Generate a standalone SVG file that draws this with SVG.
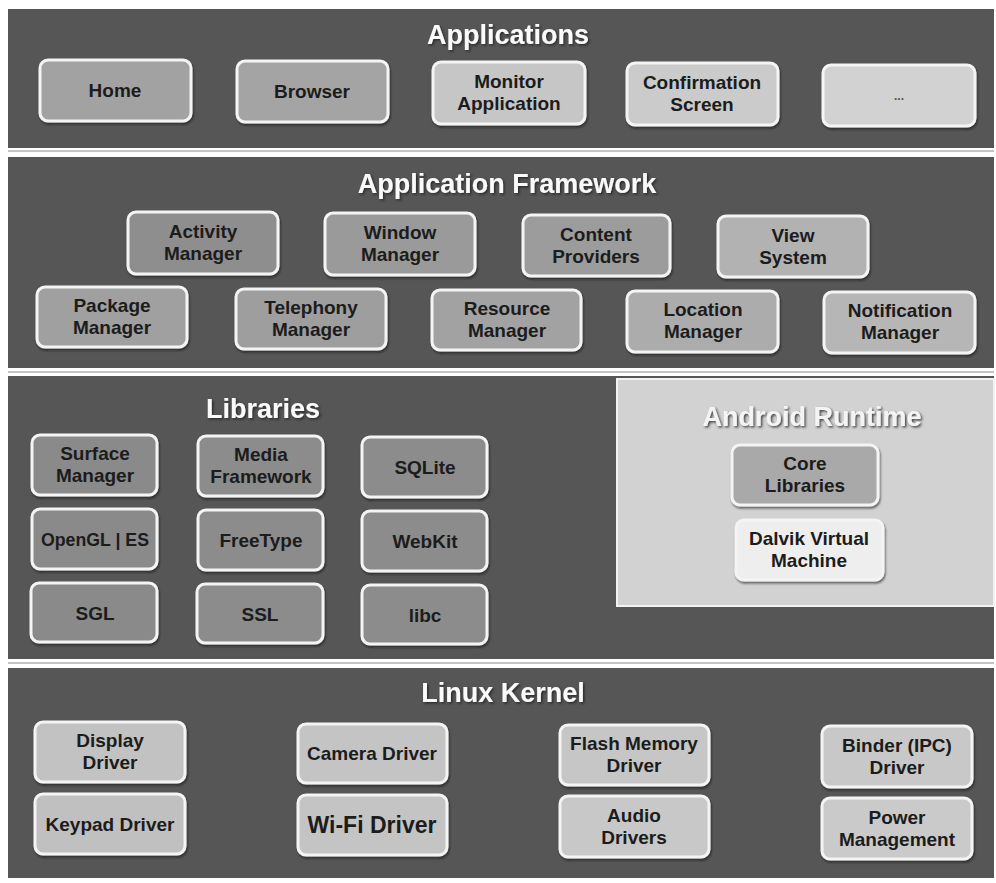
<svg xmlns="http://www.w3.org/2000/svg" width="996" height="883" viewBox="0 0 996 883">
<defs>
<filter id="tshadow" x="-10%" y="-30%" width="120%" height="160%">
<feDropShadow dx="1.5" dy="1.5" stdDeviation="1" flood-color="#222" flood-opacity="0.8"/>
</filter>
<filter id="bshadow" x="-10%" y="-10%" width="120%" height="130%">
<feDropShadow dx="1" dy="2" stdDeviation="1.2" flood-color="#111" flood-opacity="0.6"/>
</filter>
</defs>
<style>
.band{fill:#565656}
.sep{stroke:#8a8a8a;stroke-width:1.2}
.box{stroke:#f4f4f4;stroke-width:3;filter:url(#bshadow)}
.t{font-family:"Liberation Sans",Arial,sans-serif;font-weight:bold;font-size:19px;fill:#1c1c1c;text-anchor:middle}
.title{font-family:"Liberation Sans",Arial,sans-serif;font-weight:bold;font-size:27px;fill:#fafafa;text-anchor:middle;filter:url(#tshadow)}
</style>
<rect width="996" height="883" fill="#ffffff"/>
<g id="bands">
<rect class="band" x="8" y="9" width="986" height="139"/>
<rect class="band" x="8" y="157" width="986" height="211"/>
<rect class="band" x="8" y="376" width="986" height="283"/>
<rect class="band" x="8" y="668" width="986" height="210"/>
<line class="sep" x1="8" y1="151" x2="994" y2="151"/>
<line class="sep" x1="8" y1="372" x2="994" y2="372"/>
<line class="sep" x1="8" y1="663" x2="994" y2="663"/>
<rect x="617" y="379" width="377" height="227" fill="#d2d2d2" stroke="#f2f2f2" stroke-width="2"/>
</g>
<g id="titles">
<text class="title" x="508" y="44">Applications</text>
<text class="title" x="507" y="193">Application Framework</text>
<text class="title" x="263" y="418">Libraries</text>
<text class="title" x="812" y="426" style="fill:#f4f4f4">Android Runtime</text>
<text class="title" x="503" y="702">Linux Kernel</text>
</g>
<g id="app-home"><rect class="box" x="40" y="60" width="151" height="61" rx="8" fill="#a2a2a2"/><text class="t" x="115" y="97">Home</text></g>
<g id="app-browser"><rect class="box" x="237" y="61" width="151" height="61" rx="8" fill="#a4a4a4"/><text class="t" x="312" y="98">Browser</text></g>
<g id="app-monitor"><rect class="box" x="433" y="62" width="152" height="62" rx="8" fill="#c6c6c6"/><text class="t" x="509" y="88">Monitor</text><text class="t" x="509" y="110">Application</text></g>
<g id="app-confirm"><rect class="box" x="627" y="63" width="151" height="62" rx="8" fill="#cbcbcb"/><text class="t" x="702" y="89">Confirmation</text><text class="t" x="702" y="111">Screen</text></g>
<g id="app-more"><rect class="box" x="823" y="65" width="152" height="61" rx="8" fill="#d2d2d2"/><text class="t" x="899" y="100" style="font-size:12px;fill:#555">...</text></g>

<g id="fw-activity"><rect class="box" x="128" y="212" width="150" height="62" rx="8" fill="#8e8e8e"/><text class="t" x="203" y="238">Activity</text><text class="t" x="203" y="260">Manager</text></g>
<g id="fw-window"><rect class="box" x="325" y="213" width="150" height="62" rx="8" fill="#9a9a9a"/><text class="t" x="400" y="239">Window</text><text class="t" x="400" y="261">Manager</text></g>
<g id="fw-content"><rect class="box" x="523" y="215" width="147" height="61" rx="8" fill="#9c9c9c"/><text class="t" x="596" y="241">Content</text><text class="t" x="596" y="263">Providers</text></g>
<g id="fw-view"><rect class="box" x="718" y="216" width="150" height="61" rx="8" fill="#b2b2b2"/><text class="t" x="793" y="242">View</text><text class="t" x="793" y="264">System</text></g>
<g id="fw-package"><rect class="box" x="37" y="287" width="150" height="60" rx="8" fill="#a0a0a0"/><text class="t" x="112" y="312">Package</text><text class="t" x="112" y="334">Manager</text></g>
<g id="fw-telephony"><rect class="box" x="236" y="289" width="150" height="60" rx="8" fill="#9e9e9e"/><text class="t" x="311" y="314">Telephony</text><text class="t" x="311" y="336">Manager</text></g>
<g id="fw-resource"><rect class="box" x="432" y="290" width="149" height="60" rx="8" fill="#a2a2a2"/><text class="t" x="507" y="315">Resource</text><text class="t" x="507" y="337">Manager</text></g>
<g id="fw-location"><rect class="box" x="627" y="291" width="151" height="61" rx="8" fill="#acacac"/><text class="t" x="703" y="316">Location</text><text class="t" x="703" y="338">Manager</text></g>
<g id="fw-notification"><rect class="box" x="824" y="292" width="151" height="61" rx="8" fill="#b6b6b6"/><text class="t" x="900" y="317">Notification</text><text class="t" x="900" y="339">Manager</text></g>

<g id="lib-surface"><rect class="box" x="32" y="435" width="125" height="60" rx="8" fill="#8a8a8a"/><text class="t" x="95" y="460">Surface</text><text class="t" x="95" y="482">Manager</text></g>
<g id="lib-media"><rect class="box" x="198" y="436" width="125" height="60" rx="8" fill="#8c8c8c"/><text class="t" x="261" y="461">Media</text><text class="t" x="261" y="483">Framework</text></g>
<g id="lib-sqlite"><rect class="box" x="362" y="437" width="125" height="60" rx="8" fill="#8c8c8c"/><text class="t" x="425" y="474">SQLite</text></g>
<g id="lib-opengl"><rect class="box" x="32" y="509" width="125" height="60" rx="8" fill="#8a8a8a"/><text class="t" x="95" y="546" textLength="108" lengthAdjust="spacingAndGlyphs">OpenGL | ES</text></g>
<g id="lib-freetype"><rect class="box" x="198" y="510" width="125" height="60" rx="8" fill="#8c8c8c"/><text class="t" x="261" y="547">FreeType</text></g>
<g id="lib-webkit"><rect class="box" x="362" y="511" width="125" height="60" rx="8" fill="#8c8c8c"/><text class="t" x="425" y="548">WebKit</text></g>
<g id="lib-sgl"><rect class="box" x="31" y="583" width="126" height="59" rx="8" fill="#8a8a8a"/><text class="t" x="95" y="620">SGL</text></g>
<g id="lib-ssl"><rect class="box" x="197" y="584" width="126" height="59" rx="8" fill="#8c8c8c"/><text class="t" x="260" y="621">SSL</text></g>
<g id="lib-libc"><rect class="box" x="362" y="585" width="125" height="59" rx="8" fill="#8c8c8c"/><text class="t" x="425" y="622">libc</text></g>

<g id="rt-core"><rect class="box" x="732" y="445" width="146" height="60" rx="8" fill="#a9a9a9"/><text class="t" x="805" y="470">Core</text><text class="t" x="805" y="492">Libraries</text></g>
<g id="rt-dalvik"><rect class="box" x="736" y="520" width="147" height="60" rx="8" fill="#eeeeee"/><text class="t" x="809" y="545">Dalvik Virtual</text><text class="t" x="809" y="567">Machine</text></g>

<g id="k-display"><rect class="box" x="35" y="722" width="150" height="60" rx="8" fill="#c2c2c2"/><text class="t" x="110" y="747">Display</text><text class="t" x="110" y="769">Driver</text></g>
<g id="k-keypad"><rect class="box" x="35" y="794" width="150" height="60" rx="8" fill="#c0c0c0"/><text class="t" x="110" y="831">Keypad Driver</text></g>
<g id="k-camera"><rect class="box" x="298" y="724" width="149" height="59" rx="8" fill="#c4c4c4"/><text class="t" x="372" y="760">Camera Driver</text></g>
<g id="k-wifi"><rect class="box" x="298" y="795" width="149" height="60" rx="8" fill="#c4c4c4"/><text class="t" x="372" y="833" style="font-size:23px">Wi-Fi Driver</text></g>
<g id="k-flash"><rect class="box" x="560" y="725" width="149" height="60" rx="8" fill="#c6c6c6"/><text class="t" x="634" y="750">Flash Memory</text><text class="t" x="634" y="772">Driver</text></g>
<g id="k-audio"><rect class="box" x="560" y="796" width="149" height="61" rx="8" fill="#c8c8c8"/><text class="t" x="634" y="822">Audio</text><text class="t" x="634" y="844">Drivers</text></g>
<g id="k-binder"><rect class="box" x="822" y="726" width="150" height="61" rx="8" fill="#c8c8c8"/><text class="t" x="897" y="752">Binder (IPC)</text><text class="t" x="897" y="774">Driver</text></g>
<g id="k-power"><rect class="box" x="822" y="798" width="150" height="61" rx="8" fill="#cacaca"/><text class="t" x="897" y="824">Power</text><text class="t" x="897" y="846">Management</text></g>
<g id="connectors"/>
</svg>
